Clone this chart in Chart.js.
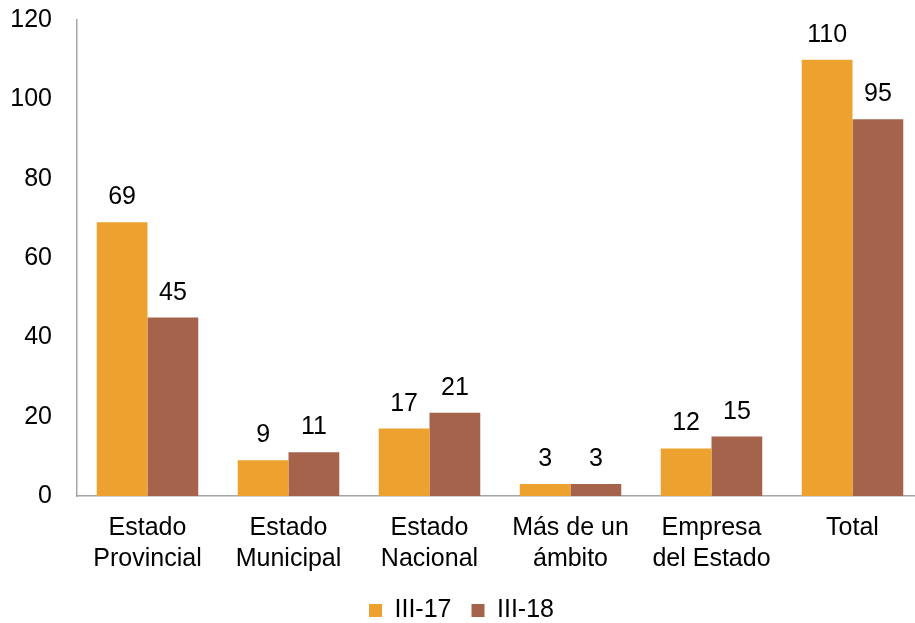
<!DOCTYPE html>
<html>
<head>
<meta charset="utf-8">
<script src="https://cdn.jsdelivr.net/npm/chart.js@4/dist/chart.umd.min.js"></script>
<style>
  html, body { margin: 0; padding: 0; background: #fff; overflow: hidden; }
  #wrap { width: 923px; height: 633px; }
</style>
</head>
<body>
<div id="wrap"><canvas id="chart"></canvas></div>
<script>
// datos del gráfico
const categorias = [
    ['Estado', 'Provincial'],
    ['Estado', 'Municipal'],
    ['Estado', 'Nacional'],
    ['Más de un', 'ámbito'],
    ['Empresa', 'del Estado'],
    'Total'
];
const serieIII17 = [69, 9, 17, 3, 12, 110];
const serieIII18 = [45, 11, 21, 3, 15, 95];
const etiquetasSeries = ['III-17', 'III-18'];
const ticksY = [0, 20, 40, 60, 80, 100, 120];

const fuente = "'Liberation Sans', Arial, sans-serif";

// etiquetas de valor encima de las barras
const valoresPlugin = {
    id: 'valores',
    afterDatasetsDraw(chart) {
        const ctx = chart.ctx;
        ctx.save();
        ctx.font = '25px ' + fuente;
        ctx.fillStyle = '#000';
        ctx.textAlign = 'center';
        ctx.textBaseline = 'alphabetic';
        chart.data.datasets.forEach((ds, i) => {
            chart.getDatasetMeta(i).data.forEach((bar, j) => {
                ctx.fillText(ds.data[j], bar.x, bar.y - 18);
            });
        });
        ctx.restore();
    }
};

new Chart(document.getElementById('chart'), {
    type: 'bar',
    data: {
        labels: categorias,
        datasets: [{
            label: etiquetasSeries[0],
            data: serieIII17,
            backgroundColor: '#EDA12F',
            categoryPercentage: 0.72,
            barPercentage: 1
        }, {
            label: etiquetasSeries[1],
            data: serieIII18,
            backgroundColor: '#A5634B',
            categoryPercentage: 0.72,
            barPercentage: 1
        }]
    },
    options: {
        responsive: true,
        maintainAspectRatio: false,
        animation: false,
        layout: { padding: { top: 20, right: 0, bottom: 0, left: 0 } },
        plugins: {
            tooltip: { enabled: false },
            legend: {
                position: 'bottom',
                labels: {
                    font: { family: fuente, size: 25, lineHeight: 1 },
                    color: '#000',
                    boxWidth: 13,
                    boxHeight: 13,
                    padding: 20
                }
            }
        },
        scales: {
            x: {
                grid: { display: false },
                border: { display: true, color: '#A6A6A6', width: 1.5 },
                afterFit(scale) { scale.height = 82; },
                ticks: {
                    font: { family: fuente, size: 25, lineHeight: 1.25 },
                    color: '#000',
                    maxRotation: 0,
                    padding: 8
                }
            },
            y: {
                min: 0,
                max: 120,
                afterBuildTicks(scale) {
                    scale.ticks = ticksY.map(v => ({ value: v }));
                },
                afterFit(scale) {
                    scale.width = 77;
                    scale.paddingTop = 0;
                    scale.paddingBottom = 0;
                },
                grid: { display: false },
                border: { display: true, color: '#A6A6A6', width: 1.5 },
                ticks: {
                    font: { family: fuente, size: 25 },
                    color: '#000',
                    padding: 17
                }
            }
        }
    },
    plugins: [valoresPlugin]
});
</script>
</body>
</html>
